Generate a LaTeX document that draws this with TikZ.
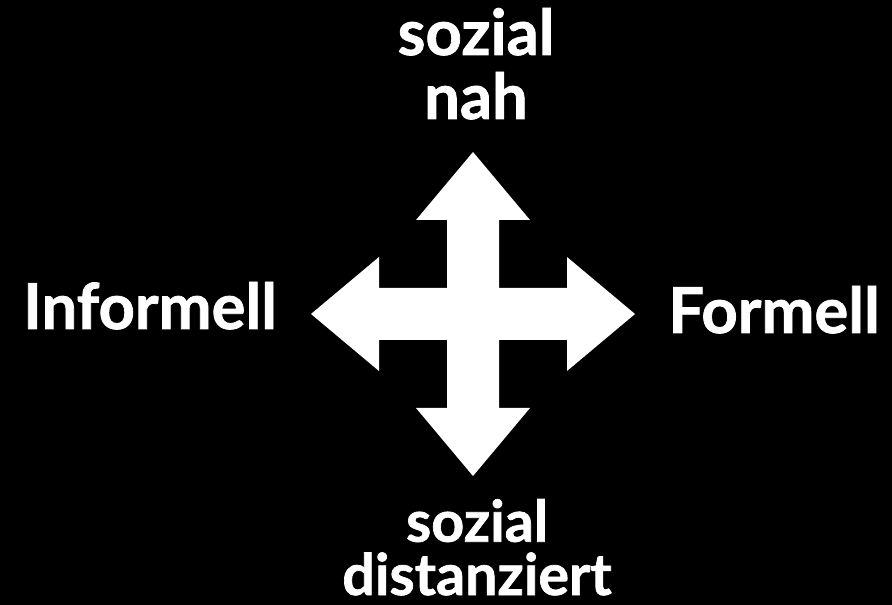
\documentclass[tikz,border=0pt]{standalone}
\usepackage{fontspec}
\setmainfont{Lato}[BoldFeatures={FakeBold=1.2}]
\usepackage{tikz}
\usetikzlibrary{positioning}
\usepackage{xcolor}

\begin{document}
\begin{tikzpicture}[
  x=0.75pt, y=-0.75pt,
  lbl/.style={text=white, align=center, inner sep=0pt, font=\bfseries\fontsize{47.5}{48}\selectfont},
  lblsmall/.style={lbl, font=\bfseries\fontsize{43}{40}\selectfont},
  cross/.style={fill=white, draw=none}
]
% background and frame
\fill[black] (0,0) rectangle (892,605);
\useasboundingbox (0,0) rectangle (892,605);

% four-way arrow
\coordinate (mid) at (473,314);
\fill[cross, shift={(mid)}]
  (0,-162) -- (57,-94) -- (26,-94) -- (26,-26) -- (94,-26) -- (94,-57)
  -- (162,0) -- (94,57) -- (94,26) -- (26,26) -- (26,94) -- (57,94)
  -- (0,162) -- (-57,94) -- (-26,94) -- (-26,26) -- (-94,26) -- (-94,57)
  -- (-162,0) -- (-94,-57) -- (-94,-26) -- (-26,-26) -- (-26,-94) -- (-57,-94)
  -- cycle;

% labels
\node[lbl, anchor=base] (nah) at (476,119) {sozial\\nah};
\node[lbl, anchor=base] (informell) at (150,329) {Informell};
\node[lbl, anchor=base] (formell) at (774,333) {Formell};
\node[lblsmall, anchor=base] (distanz) at (477,595) {sozial\\distanziert};
\end{tikzpicture}
\end{document}
